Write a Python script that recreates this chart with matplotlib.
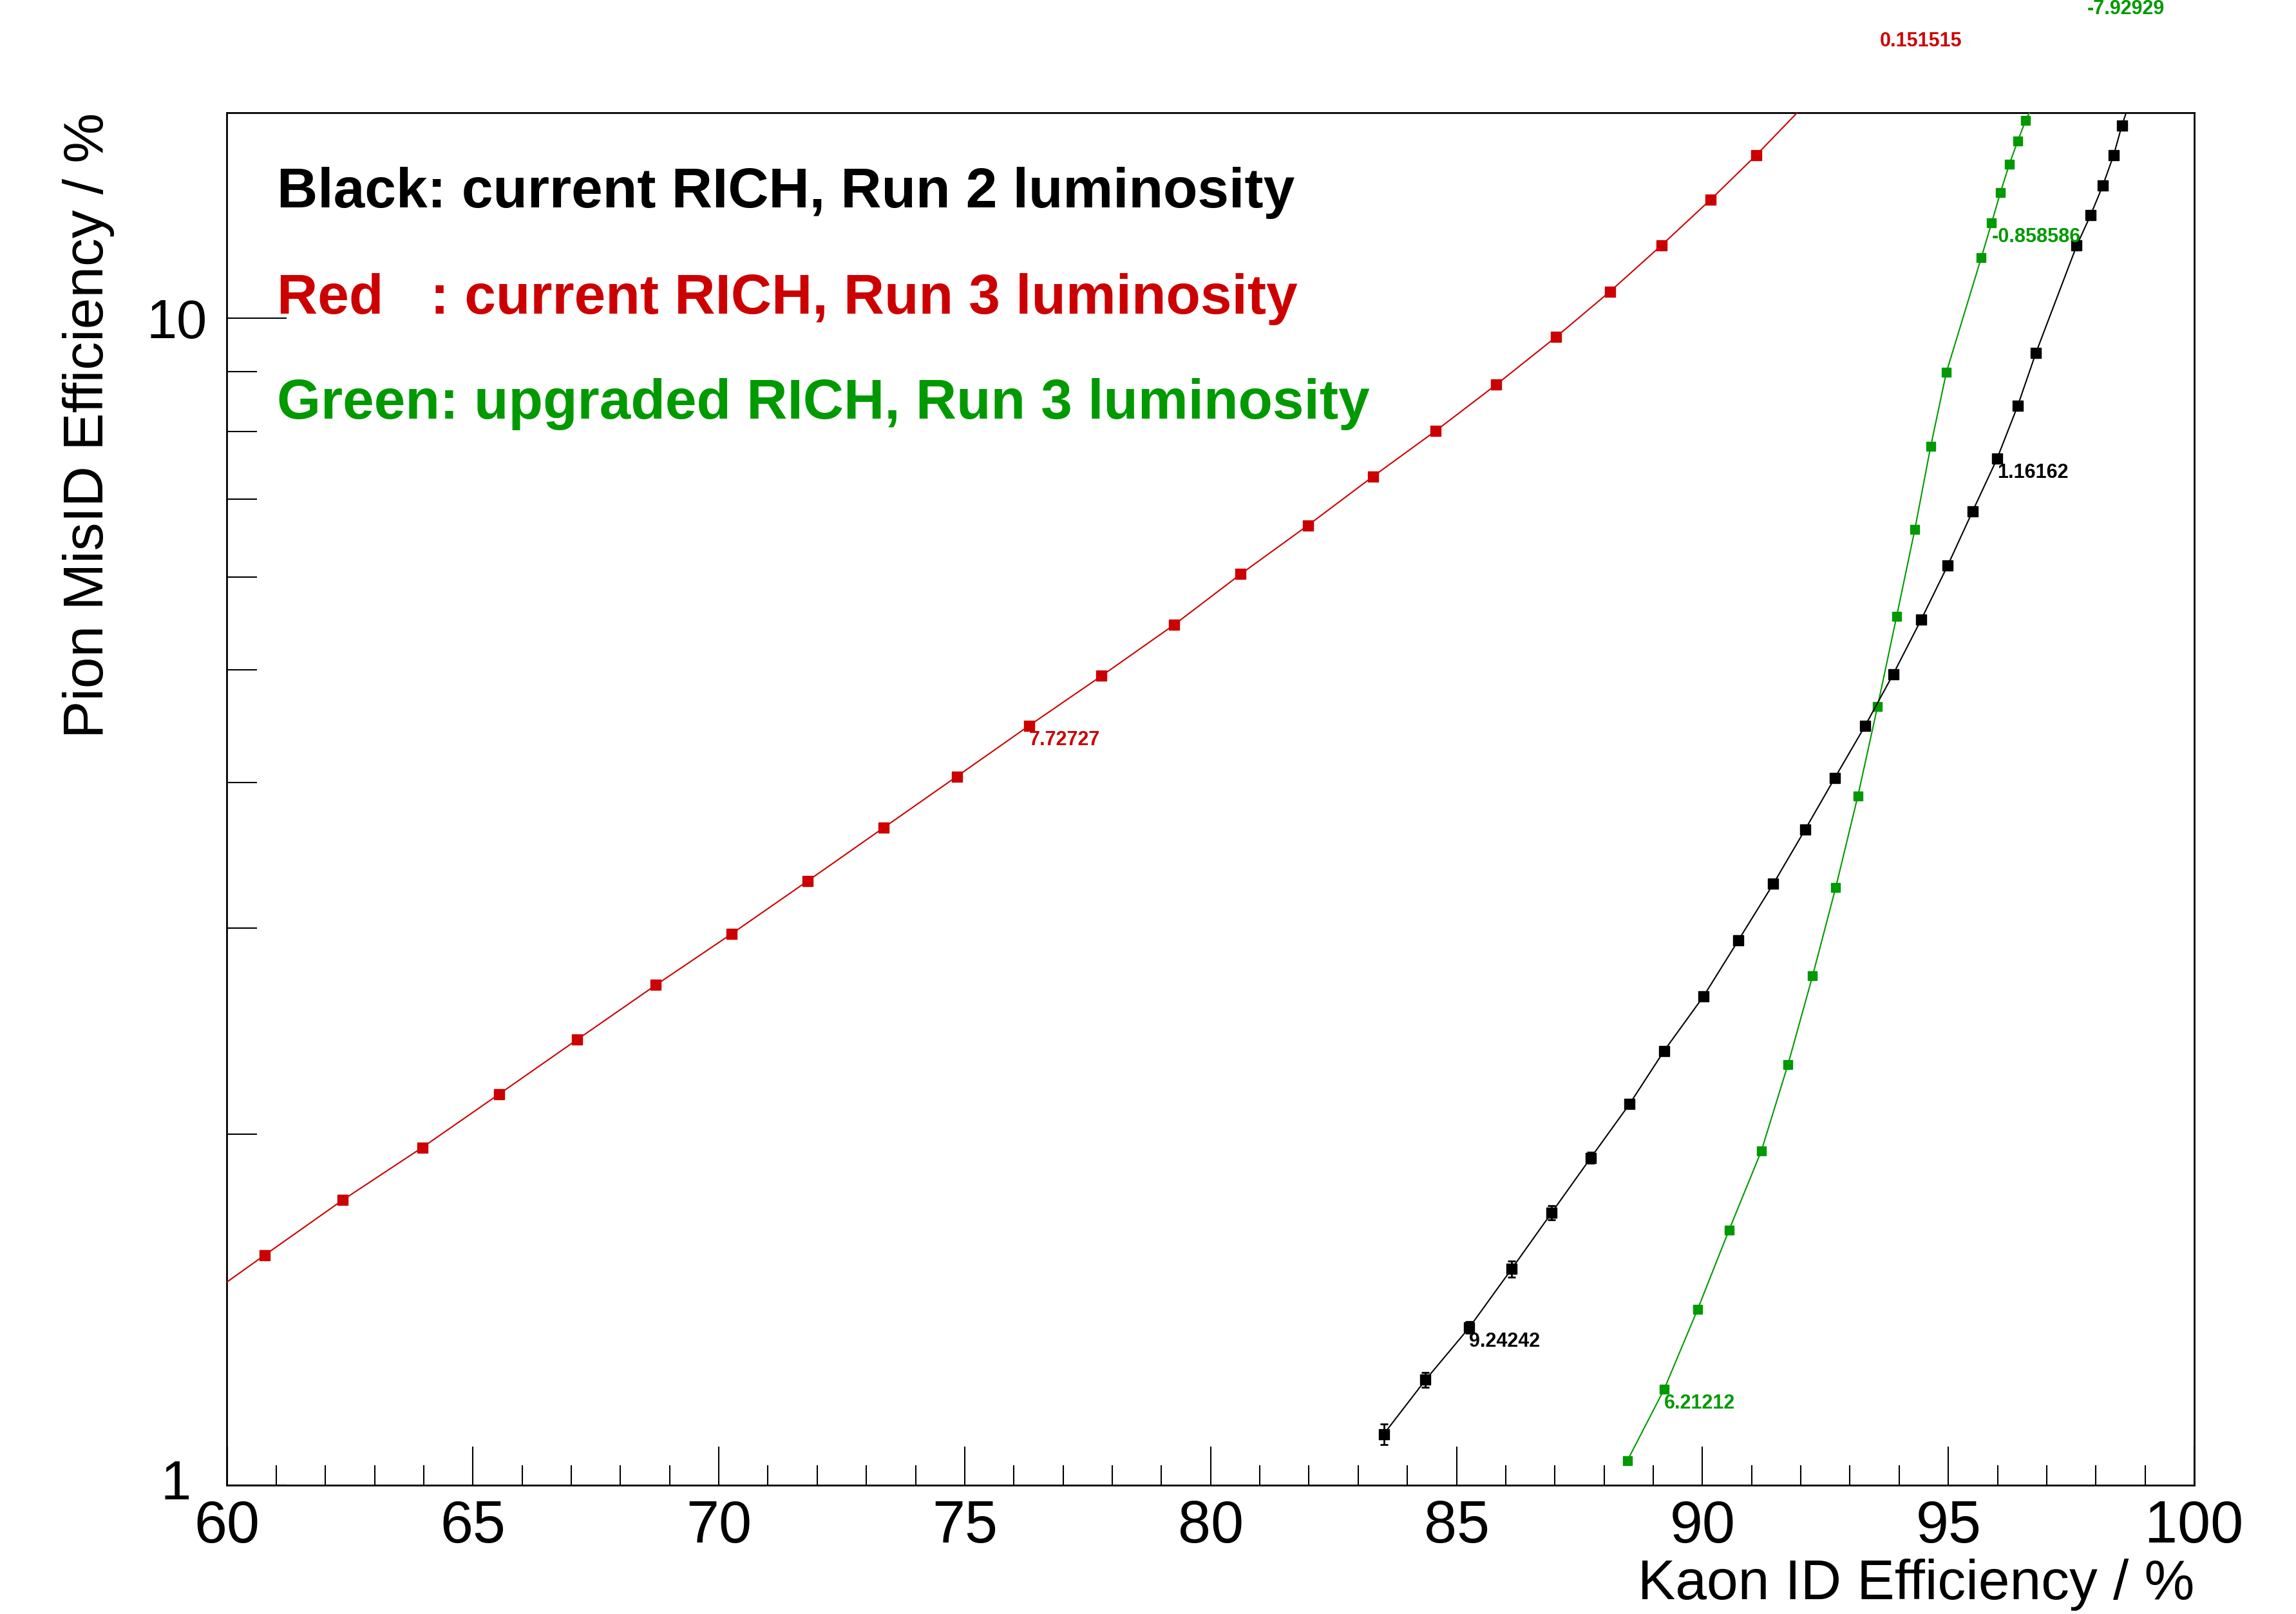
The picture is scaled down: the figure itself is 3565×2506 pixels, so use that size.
import matplotlib
matplotlib.use("Agg")
import matplotlib.pyplot as plt
from matplotlib.ticker import FixedLocator, FixedFormatter, NullFormatter

plt.rcParams['font.family'] = ['Liberation Sans', 'DejaVu Sans']

# ---------------- data ----------------
# Red: current RICH, Run 3 luminosity
red_x = [59.19, 60.77, 62.35, 63.97, 65.53, 67.12, 68.72, 70.26, 71.81, 73.35,
         74.84, 76.31, 77.78, 79.26, 80.61, 81.98, 83.30, 84.58, 85.81, 87.02,
         88.12, 89.17, 90.17, 91.09, 93.60]
red_y = [1.412, 1.575, 1.755, 1.947, 2.163, 2.409, 2.683, 2.968, 3.295, 3.659,
         4.049, 4.476, 4.937, 5.462, 6.035, 6.646, 7.317, 8.009, 8.773, 9.634,
         10.54, 11.55, 12.64, 13.79, 17.75]

# Black: current RICH, Run 2 luminosity
black_x = [83.52, 84.37, 85.26, 86.12, 86.93, 87.73, 88.52, 89.22, 90.02, 90.73,
           91.44, 92.09, 92.69, 93.31, 93.88, 94.45, 94.99, 95.49, 95.99, 96.41,
           96.78, 97.61, 97.89, 98.14, 98.36, 98.53, 98.75]
black_y = [1.106, 1.231, 1.365, 1.532, 1.711, 1.908, 2.122, 2.356, 2.623, 2.930,
           3.275, 3.647, 4.036, 4.476, 4.955, 5.520, 6.143, 6.828, 7.578, 8.412,
           9.337, 11.54, 12.25, 12.99, 13.79, 14.63, 15.6]
black_err = [0.022, 0.018, 0.016, 0.025, 0.024, 0.02, 0.016, 0.016, 0.016, 0.016,
             0.016, 0.016, 0.016, 0.016, 0.016, 0.016, 0.016, 0.016, 0.016, 0.016,
             0.016, 0.016, 0.016, 0.016, 0.016, 0.016, 0.016]

# Green: upgraded RICH, Run 3 luminosity
green_x = [88.47, 89.22, 89.90, 90.54, 91.20, 91.74, 92.24, 92.71, 93.16, 93.56,
           93.95, 94.32, 94.64, 94.96, 95.67, 95.88, 96.06, 96.24, 96.41, 96.57,
           97.82]
green_y = [1.049, 1.208, 1.414, 1.654, 1.935, 2.294, 2.732, 3.252, 3.895, 4.647,
           5.556, 6.595, 7.762, 8.986, 11.27, 12.07, 12.82, 13.55, 14.18, 14.77,
           18.92]

# point annotations (cut values): (point index, text)
red_labels = [(11, "7.72727"), (24, "0.151515")]
black_labels = [(2, "9.24242"), (18, "1.16162")]
green_labels = [(1, "6.21212"), (15, "-0.858586"), (20, "-7.92929")]

legend_lines = ["Black: current RICH, Run 2 luminosity",
                "Red   : current RICH, Run 3 luminosity",
                "Green: upgraded RICH, Run 3 luminosity"]

x_ticks_major = [60, 65, 70, 75, 80, 85, 90, 95, 100]
x_ticks_minor = list(range(60, 101))
y_ticks_major = [1, 10]
y_tick_labels = ["", "10"]     # the "1" label is drawn separately (it sits beside "60")
y_bottom_label = "1"
y_ticks_minor = [2, 3, 4, 5, 6, 7, 8, 9]

RED = "#cc0000"
BLACK = "#000000"
GREEN = "#009900"

# ---------------- figure ----------------
W, H = 3566, 2506
fig = plt.figure(figsize=(W / 100, H / 100), dpi=100)
left, right, top, bottom = 352.5 / W, 3407 / W, 1 - 175 / H, 1 - 2306 / H
ax = fig.add_axes([left, bottom, right - left, top - bottom])
ax.set_yscale("log")
ax.set_xlim(60, 100)
ax.set_ylim(1, 15)

ax.plot(red_x, red_y, color=RED, lw=1.5, marker="s", ms=11.5, mec=RED, mfc=RED, zorder=3)
ax.errorbar(black_x, black_y, yerr=black_err, color=BLACK, lw=1.5, marker="s", ms=11.5,
            elinewidth=2, capsize=4.5, capthick=2, zorder=4)
ax.plot(green_x, green_y, color=GREEN, lw=1.5, marker="s", ms=10.5, mec=GREEN, mfc=GREEN, zorder=3)


def annotate(xs, ys, labels, color):
    for idx, txt in labels:
        ax.annotate(txt, (xs[idx], ys[idx]), xytext=(0, -5), textcoords="offset points",
                    ha="left", va="top", fontsize=22, fontweight="bold", color=color,
                    annotation_clip=False, zorder=6)


annotate(red_x, red_y, red_labels, RED)
annotate(black_x, black_y, black_labels, BLACK)
annotate(green_x, green_y, green_labels, GREEN)

# axes styling (ROOT-like)
for s in ax.spines.values():
    s.set_linewidth(2)
ax.xaxis.set_major_locator(FixedLocator(x_ticks_major))
ax.xaxis.set_minor_locator(FixedLocator(x_ticks_minor))
ax.yaxis.set_major_locator(FixedLocator(y_ticks_major))
ax.yaxis.set_major_formatter(FixedFormatter(y_tick_labels))
ax.yaxis.set_minor_locator(FixedLocator(y_ticks_minor))
ax.yaxis.set_minor_formatter(NullFormatter())
ax.tick_params(axis="x", which="major", direction="in", length=43, width=1.5,
               labelsize=66, pad=16, top=False)
ax.tick_params(axis="x", which="minor", direction="in", length=22, width=1.5, top=False)
ax.tick_params(axis="y", which="major", direction="in", length=67, width=1.5,
               labelsize=61, pad=22, right=False)
ax.tick_params(axis="y", which="minor", direction="in", length=34, width=1.5, right=False)

# the "1" at the bottom of the y axis, just left of the "60" label
ax.annotate(y_bottom_label, (0, 1), xycoords=("axes fraction", "data"),
            xytext=(-40, 0), textcoords="offset points", ha="right", va="center",
            fontsize=61, annotation_clip=False)

# axis titles
fig.text(right, 1 - 2483 / H, "Kaon ID Efficiency / %", ha="right", va="baseline", fontsize=63)
fig.text(97 / W, top, "Pion MisID Efficiency / %", ha="left", va="top",
         rotation=90, fontsize=63)

# legend-like text
colors = [BLACK, RED, GREEN]
baselines = [322, 487, 650]
for txt, c, b in zip(legend_lines, colors, baselines):
    fig.text(430 / W, 1 - b / H, txt, ha="left", va="baseline", fontsize=63,
             fontweight="bold", color=c)

fig.savefig("out.png", dpi=100)
